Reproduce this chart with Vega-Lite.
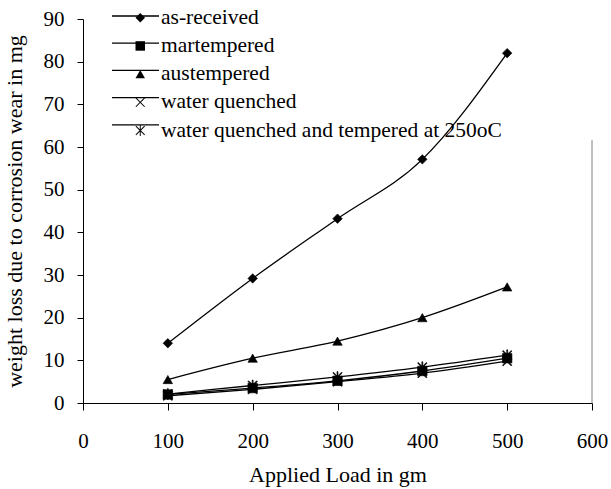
{
  "$schema": "https://vega.github.io/schema/vega-lite/v6.json",
  "width": 509,
  "height": 384,
  "autosize": {"type": "none"},
  "padding": {"left": 83, "top": 19, "right": 19, "bottom": 86},
  "background": "white",
  "config": {
    "font": "Liberation Serif",
    "view": {"stroke": null},
    "axis": {"labelFont": "Liberation Serif", "titleFont": "Liberation Serif", "labelColor": "black", "titleColor": "black", "domainColor": "black", "tickColor": "black", "labelFontSize": 21, "titleFontSize": 22, "titleFontWeight": "normal", "grid": false},
    "axisY": {"labelPadding": 13, "tickSize": 6}
  },
  "data": {"values": [
    {"load": 100, "wear": 14, "series": "as-received"},
    {"load": 200, "wear": 29.2, "series": "as-received"},
    {"load": 300, "wear": 43.2, "series": "as-received"},
    {"load": 400, "wear": 57.1, "series": "as-received"},
    {"load": 500, "wear": 82, "series": "as-received"},
    {"load": 100, "wear": 2, "series": "martempered"},
    {"load": 200, "wear": 3.5, "series": "martempered"},
    {"load": 300, "wear": 5.2, "series": "martempered"},
    {"load": 400, "wear": 7.5, "series": "martempered"},
    {"load": 500, "wear": 10.5, "series": "martempered"},
    {"load": 100, "wear": 5.5, "series": "austempered"},
    {"load": 200, "wear": 10.5, "series": "austempered"},
    {"load": 300, "wear": 14.5, "series": "austempered"},
    {"load": 400, "wear": 20, "series": "austempered"},
    {"load": 500, "wear": 27.2, "series": "austempered"},
    {"load": 100, "wear": 1.7, "series": "water quenched"},
    {"load": 200, "wear": 3.2, "series": "water quenched"},
    {"load": 300, "wear": 5, "series": "water quenched"},
    {"load": 400, "wear": 7, "series": "water quenched"},
    {"load": 500, "wear": 9.8, "series": "water quenched"},
    {"load": 100, "wear": 2.1, "series": "water quenched and tempered at 250oC"},
    {"load": 200, "wear": 4.1, "series": "water quenched and tempered at 250oC"},
    {"load": 300, "wear": 6.1, "series": "water quenched and tempered at 250oC"},
    {"load": 400, "wear": 8.4, "series": "water quenched and tempered at 250oC"},
    {"load": 500, "wear": 11.2, "series": "water quenched and tempered at 250oC"}
  ]},
  "encoding": {
    "x": {"field": "load", "type": "quantitative", "scale": {"domain": [0, 600]},
      "axis": {"values": [0, 100, 200, 300, 400, 500, 600], "title": "Applied Load in gm", "tickSize": 7, "labelPadding": 20, "titlePadding": 13, "labelFlush": false}},
    "y": {"field": "wear", "type": "quantitative", "scale": {"domain": [0, 90]},
      "axis": {"values": [0, 10, 20, 30, 40, 50, 60, 70, 80, 90], "title": "weight loss due to corrosion wear in mg", "tickSize": 6, "labelPadding": 13, "titleX": -57, "titleY": 192, "titleAngle": -90, "titleBaseline": "bottom", "titleAlign": "center",
        "encode": {"labels": {"update": {"dx": {"value": -6}}}}}}
  },
  "layer": [
    {
      "data": {"values": [{"load": 600, "wear": 0, "wear2": 61.6}]},
      "mark": {"type": "rule", "color": "#808080", "strokeWidth": 1},
      "encoding": {
        "y2": {"field": "wear2"}
      }
    },
    {
      "mark": {"type": "line", "interpolate": "monotone", "strokeWidth": 1.3},
      "encoding": {
        "color": {"field": "series", "type": "nominal",
          "scale": {"domain": ["as-received", "martempered", "austempered", "water quenched", "water quenched and tempered at 250oC"], "range": ["black", "black", "black", "black", "black"]},
          "legend": {"orient": "none", "legendX": 28, "legendY": -12, "title": null, "symbolType": "stroke", "symbolSize": 2209, "symbolStrokeWidth": 1.3, "symbolStrokeColor": "black", "labelExpr": "''", "labelFontSize": 21.5, "clipHeight": 18, "rowPadding": 5.2, "padding": 0, "labelOffset": 0}
        }
      }
    },
    {
      "mark": {"type": "point", "filled": true, "color": "black", "stroke": "black", "strokeWidth": 0.6, "size": 90, "opacity": 1},
      "encoding": {
        "shape": {"field": "series", "type": "nominal",
          "sort": ["as-received", "martempered", "austempered", "water quenched", "water quenched and tempered at 250oC"],
          "scale": {"range": ["diamond", "square", "triangle-up", "M-1,-0.85L0.85,1L1,0.85L-0.85,-1Z M1,-0.85L0.85,-1L-1,0.85L-0.85,1Z", "M-1,-0.85L0.85,1L1,0.85L-0.85,-1Z M1,-0.85L0.85,-1L-1,0.85L-0.85,1Z M-0.1,-1.15L-0.1,1.15L0.1,1.15L0.1,-1.15Z"]},
          "legend": {"orient": "none", "legendX": 46.5, "legendY": -12, "title": null, "symbolSize": 90, "symbolFillColor": "black", "symbolStrokeColor": "black", "symbolStrokeWidth": 0.6, "symbolOpacity": 1, "labelFont": "Liberation Serif", "labelFontSize": 21.5, "labelColor": "black", "labelLimit": 600, "rowPadding": 5.2, "padding": 0, "labelOffset": 10,
            "encode": {"symbols": {"update": {"stroke": {"value": "black"}, "strokeWidth": {"value": 0.6}, "fill": {"value": "black"}, "opacity": {"value": 1}}}}}
        }
      }
    }
  ]
}
